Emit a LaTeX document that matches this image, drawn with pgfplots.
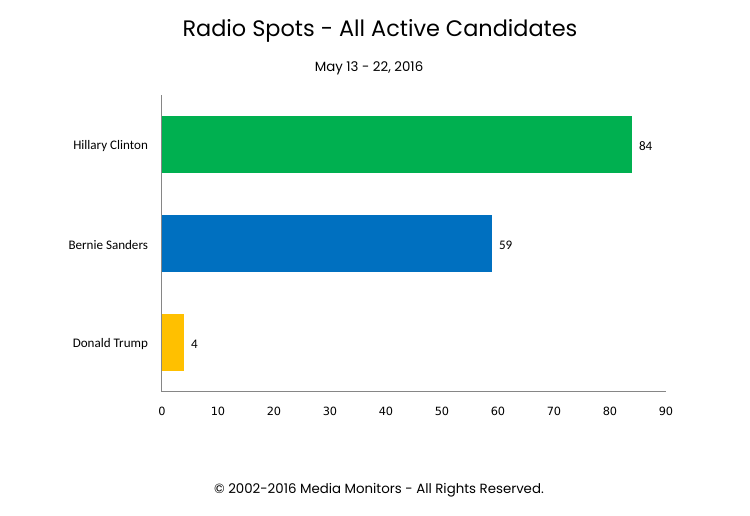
\documentclass[border=0pt]{standalone}
\usepackage{pgfplots}
\pgfplotsset{compat=1.18}
\usepackage{fontspec}
\setmainfont{Carlito}
\newfontfamily\titlefont{Poppins}
\newfontfamily\tickfont{DejaVu Sans}
\definecolor{cgreen}{HTML}{00B050}
\definecolor{cblue}{HTML}{0070C0}
\definecolor{cyellow}{HTML}{FFC000}
\definecolor{axgray}{HTML}{868686}
\begin{document}
\begin{tikzpicture}
\useasboundingbox[fill=white] (0pt,0pt) rectangle (562.5pt,387pt);
\node[font=\titlefont\fontsize{16.8}{18}\selectfont] at (285pt,364pt) {Radio Spots - All Active Candidates};
\node[font=\titlefont\fontsize{10}{11}\selectfont] at (276.75pt,335.5pt) {May 13 - 22, 2016};
\node[font=\titlefont\fontsize{10}{11}\selectfont] at (284.25pt,19pt) {© 2002-2016 Media Monitors - All Rights Reserved.};
\begin{axis}[
  at={(121.5pt,93pt)}, anchor=south west,
  width=378pt, height=222.75pt, scale only axis,
  xbar, bar width=0.575, bar shift=0pt,
  xmin=0, xmax=90, ymin=-0.5, ymax=2.5,
  xtick={0,10,...,90},
  ytick={0,1,2},
  yticklabels={Donald Trump,Bernie Sanders,Hillary Clinton},
  axis x line*=bottom, axis y line*=left,
  axis line style={axgray, line width=0.75pt},
  x axis line style={-}, y axis line style={-},
  major tick length=0pt,
  tick style={draw=none},
  xticklabel style={font=\tickfont\fontsize{8.5}{9}\selectfont, yshift=-7.5pt},
  yticklabel style={font=\fontsize{9.8}{11}\selectfont, xshift=-7pt, yshift=-1.2pt},
  /pgf/number format/assume math mode=true,
  nodes near coords,
  nodes near coords style={font=\fontsize{9.8}{11}\selectfont, black, xshift=1.5pt, yshift=-1.2pt},
  clip=false,
]
\addplot[fill=cyellow, draw=none] coordinates {(4,0)};
\addplot[fill=cblue, draw=none] coordinates {(59,1)};
\addplot[fill=cgreen, draw=none] coordinates {(84,2)};
\end{axis}
\end{tikzpicture}
\end{document}
